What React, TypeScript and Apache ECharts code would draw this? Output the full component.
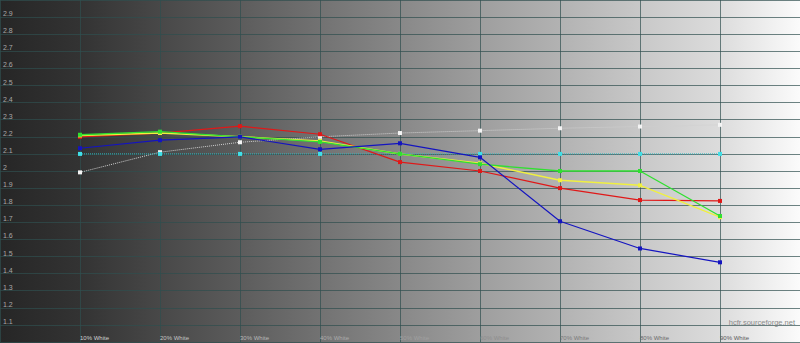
import React, { useEffect, useRef } from "react";
import * as echarts from "echarts";

const xLevels = [10, 20, 30, 40, 50, 60, 70, 80, 90];
const redGamma = [2.2, 2.222, 2.262, 2.215, 2.052, 2.0, 1.9, 1.83, 1.825];
const greenGamma = [2.212, 2.23, 2.2, 2.17, 2.1, 2.04, 2.0, 2.0, 1.737];
const blueGamma = [2.133, 2.18, 2.2, 2.127, 2.162, 2.08, 1.706, 1.547, 1.466];
const yellowGamma = [2.208, 2.222, 2.2, 2.176, 2.1, 2.045, 1.946, 1.916, 1.73];
const referenceGamma = [2.1, 2.1, 2.1, 2.1, 2.1, 2.1, 2.1, 2.1, 2.1];
const whiteGamma = [1.992, 2.11, 2.168, 2.2, 2.222, 2.236, 2.25, 2.26, 2.27];
const xLabelColors = ["#d0d0d0", "#c4c4c4", "#b8b8b8", "#ababab", "#a0a0a0", "#8e8e8e", "#7a7a7a", "#6a6a6a", "#5a5a5a"];

const toPoints = (vals: number[]) => xLevels.map((x, i) => [x, vals[i]]);

export default function App() {
  const ref = useRef<HTMLDivElement>(null);
  useEffect(() => {
    if (!ref.current) return;
    const chart = echarts.init(ref.current, null, { renderer: "svg" });
    const lineSeries = (name: string, vals: number[], color: string, type: string, width: number, markColor: string, z: number) => ({
      name,
      type: "line",
      data: toPoints(vals),
      symbol: "rect",
      symbolSize: 4,
      z,
      lineStyle: { color, width, type },
      itemStyle: { color: markColor },
      emphasis: { disabled: true },
    });
    const gridLine = { show: true, lineStyle: { color: "#2f4f4f", width: 1, opacity: 0.7 } };
    chart.setOption({
      animation: false,
      backgroundColor: new echarts.graphic.LinearGradient(0, 0, 1, 0, [
        { offset: 0, color: "#262626" },
        { offset: 0.1, color: "#333333" },
        { offset: 0.2, color: "#484848" },
        { offset: 0.3, color: "#5c5c5c" },
        { offset: 0.4, color: "#727272" },
        { offset: 0.5, color: "#888888" },
        { offset: 0.6, color: "#9e9e9e" },
        { offset: 0.7, color: "#b2b2b2" },
        { offset: 0.8, color: "#c8c8c8" },
        { offset: 0.9, color: "#dcdcdc" },
        { offset: 1, color: "#fbfbfb" },
      ]),
      grid: { left: 0, right: 0, top: 0, bottom: 1, containLabel: false },
      xAxis: {
        type: "value",
        min: 0,
        max: 100,
        interval: 10,
        axisLine: { show: false },
        axisTick: { show: false },
        splitLine: gridLine,
        axisLabel: {
          inside: true,
          margin: 1,
          align: "left",
          verticalAlign: "bottom",
          fontSize: 6,
          fontFamily: "Liberation Sans, Arial, sans-serif",
          showMinLabel: false,
          showMaxLabel: false,
          formatter: (v: number) => (v > 0 && v < 100 ? `${v}% White` : ""),
          color: (v: any) => {
            const idx = xLevels.indexOf(Math.round(Number(v)));
            return idx >= 0 ? xLabelColors[idx] : "#999";
          },
        },
      },
      yAxis: {
        type: "value",
        min: 1,
        max: 3,
        interval: 0.1,
        axisLine: { show: false },
        axisTick: { show: false },
        splitLine: gridLine,
        axisLabel: {
          inside: true,
          margin: 3,
          align: "left",
          verticalAlign: "bottom",
          fontSize: 7,
          fontFamily: "Liberation Sans, Arial, sans-serif",
          color: "#a8a8a8",
          showMinLabel: false,
          showMaxLabel: false,
          formatter: (v: number) => {
            const r = Math.round(v * 10) / 10;
            if (r <= 1 || r >= 3) return "";
            return String(r);
          },
        },
      },
      graphic: [
        {
          type: "text",
          right: 5,
          top: 318,
          style: {
            text: "hcfr.sourceforge.net",
            fontSize: 7.5,
            fontFamily: "Liberation Sans, Arial, sans-serif",
            fill: "#8a8a8a",
          },
          z: 10,
        },
      ],
      series: [
        lineSeries("White", whiteGamma, "#d0d0d0", "dotted", 1, "#f4f4f4", 2),
        lineSeries("Reference", referenceGamma, "#30b8c0", "dotted", 1, "#40e0e8", 3),
        lineSeries("Red", redGamma, "#e01818", "solid", 1.2, "#e01818", 4),
        lineSeries("Yellow", yellowGamma, "#f0f040", "solid", 1.5, "#f0f040", 5),
        lineSeries("Green", greenGamma, "#30e030", "solid", 1.3, "#30e030", 6),
        lineSeries("Blue", blueGamma, "#1414c0", "solid", 1.2, "#1414c0", 7),
      ],
    });
    return () => chart.dispose();
  }, []);
  return <div ref={ref} style={{ position: "fixed", left: 0, top: 0, width: 800, height: 343 }} />;
}
